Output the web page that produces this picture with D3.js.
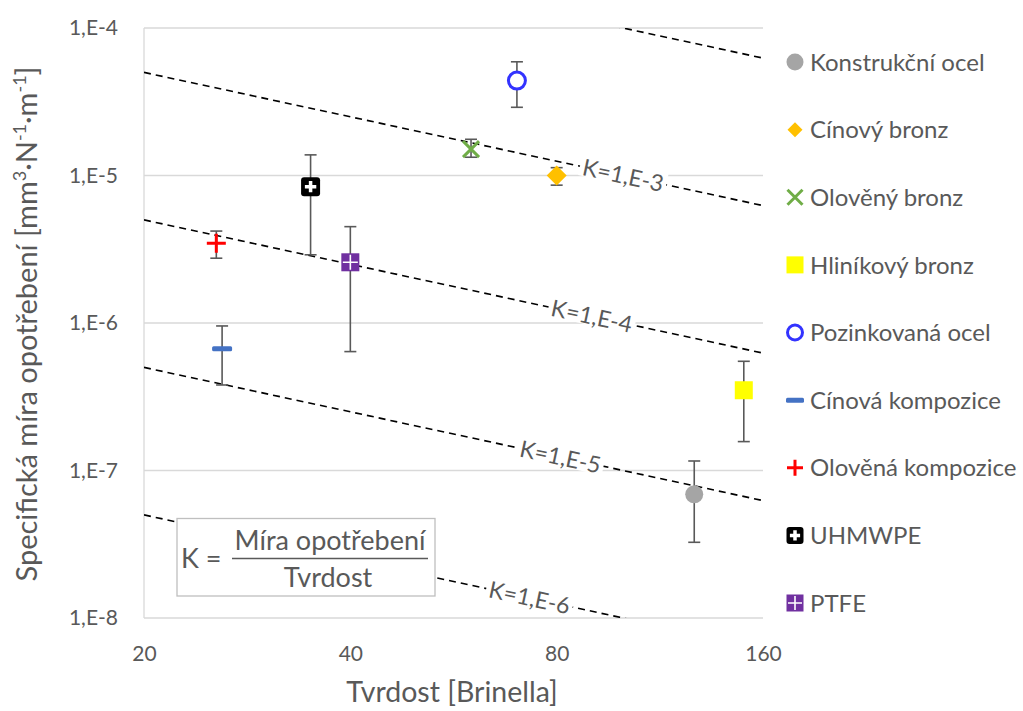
<!DOCTYPE html>
<html>
<head>
<meta charset="utf-8">
<script src="https://cdn.jsdelivr.net/npm/d3@7"></script>
<style>
  html, body { margin: 0; padding: 0; background: #fff; }
  svg { display: block; font-family: Lato, "Open Sans", sans-serif; }
</style>
</head>
<body>
<svg id="chart" width="1023" height="711"></svg>
<script>
// Materials and their measured wear (hardness in Brinell, wear rate in mm3/(N·m))
const categories = ["Konstrukční ocel", "Cínový bronz", "Olověný bronz", "Hliníkový bronz",
  "Pozinkovaná ocel", "Cínová kompozice", "Olověná kompozice", "UHMWPE", "PTFE"];
const hardness  = [127, 80, 60, 150, 70, 26, 25.5, 35, 40];
const wearRate  = [6.9e-8, 1.0e-5, 1.51e-5, 3.5e-7, 4.4e-5, 6.7e-7, 3.47e-6, 8.4e-6, 2.58e-6];
const errUpper  = [1.16e-7, 1.13e-5, 1.76e-5, 5.5e-7, 5.9e-5, 9.55e-7, 4.2e-6, 1.38e-5, 4.5e-6];
const errLower  = [3.26e-8, 8.6e-6, 1.33e-5, 1.57e-7, 2.9e-5, 3.8e-7, 2.75e-6, 2.9e-6, 6.4e-7];
const markerKind = ["circle", "diamond", "cross", "square", "ring", "dash", "plus", "boxPlus", "gridSquare"];
const markerColor = ["#A5A5A5", "#FFC000", "#70AD47", "#FFFF00", "#3333FF", "#4472C4", "#FF0000", "#000000", "#7030A0"];

// Wear coefficient reference lines: wear rate = K / hardness
const kValues   = [1e-2, 1e-3, 1e-4, 1e-5, 1e-6];
const kLabels   = ["", "K=1,E-3", "K=1,E-4", "K=1,E-5", "K=1,E-6"];
const kLabelAtX = [null, 100, 90, 81, 73];

const xTicks = [20, 40, 80, 160];
const yTicks = [1e-8, 1e-7, 1e-6, 1e-5, 1e-4];
const yTickLabels = ["1,E-8", "1,E-7", "1,E-6", "1,E-5", "1,E-4"];

const textColor = "#595959";
const svg = d3.select("#chart");

const x = d3.scaleLog().domain([20, 160]).range([144, 763]);
const y = d3.scaleLog().domain([1e-8, 1e-4]).range([618, 28]);

// Horizontal gridlines
svg.append("g").selectAll("line").data(yTicks).join("line")
  .attr("x1", x.range()[0]).attr("x2", x.range()[1])
  .attr("y1", d => y(d)).attr("y2", d => y(d))
  .attr("stroke", "#D9D9D9").attr("stroke-width", 1.3);
// Vertical axis line
svg.append("line")
  .attr("x1", x(20)).attr("x2", x(20)).attr("y1", y(1e-4)).attr("y2", y(1e-8))
  .attr("stroke", "#D9D9D9").attr("stroke-width", 1.3);

// Axes tick labels
const yAxis = svg.append("g").attr("transform", `translate(${x(20) - 26},0)`)
  .call(d3.axisLeft(y).tickValues(yTicks).tickSize(0).tickPadding(0)
    .tickFormat((d, i) => yTickLabels[i]));
yAxis.select(".domain").remove();
yAxis.selectAll("text").attr("font-size", 21).attr("fill", textColor)
  .attr("font-family", "Lato, sans-serif");

const xAxis = svg.append("g").attr("transform", `translate(0,${y(1e-8) + 28})`)
  .call(d3.axisBottom(x).tickValues(xTicks).tickSize(0).tickPadding(0)
    .tickFormat(d3.format("d")));
xAxis.select(".domain").remove();
xAxis.selectAll("text").attr("font-size", 21).attr("fill", textColor)
  .attr("font-family", "Lato, sans-serif");

// Axis titles
svg.append("text")
  .attr("transform", `translate(37,324) rotate(-90)`)
  .attr("text-anchor", "middle").attr("font-size", 29).attr("fill", textColor)
  .selectAll("tspan")
  .data([["Specifická míra opotřebení [mm", 0], ["3", 1], ["·N", 0], ["-1", 1], ["·m", 0], ["-1", 1], ["]", 0]])
  .join("tspan")
  .attr("baseline-shift", d => d[1] ? "super" : null)
  .attr("font-size", d => d[1] ? 18 : 29)
  .text(d => d[0]);

svg.append("text")
  .attr("x", 452).attr("y", 702)
  .attr("text-anchor", "middle").attr("font-size", 28.5).attr("fill", textColor)
  .text("Tvrdost [Brinella]");

// Clip for reference lines
svg.append("clipPath").attr("id", "plotClip").append("rect")
  .attr("x", x.range()[0]).attr("y", y.range()[1])
  .attr("width", x.range()[1] - x.range()[0]).attr("height", y.range()[0] - y.range()[1]);

const kGroup = svg.append("g").attr("clip-path", "url(#plotClip)");
kGroup.selectAll("line").data(kValues).join("line")
  .attr("x1", x(20)).attr("y1", k => y(k / 20))
  .attr("x2", x(160)).attr("y2", k => y(k / 160))
  .attr("stroke", "#000").attr("stroke-width", 1.6)
  .attr("stroke-dasharray", "7,5");

// Labels on reference lines, rotated along the line
const slopeDeg = Math.atan2(y(1 / 160) - y(1 / 20), x(160) - x(20)) * 180 / Math.PI;
const labelG = svg.append("g");
kValues.forEach((k, i) => {
  if (!kLabelAtX[i]) return;
  const cx = x(kLabelAtX[i]), cy = y(k / kLabelAtX[i]);
  const g = labelG.append("g").attr("transform", `translate(${cx},${cy}) rotate(${slopeDeg})`);
  const t = g.append("text").attr("text-anchor", "middle").attr("dy", "0.35em")
    .attr("font-size", 23).attr("fill", textColor).text(kLabels[i]);
  const bb = t.node().getBBox();
  g.insert("rect", "text").attr("x", bb.x - 3).attr("y", bb.y + 4)
    .attr("width", bb.width + 6).attr("height", bb.height - 8).attr("fill", "#fff");
});

// Error bars
const errG = svg.append("g").attr("stroke", "#595959").attr("stroke-width", 1.6).attr("fill", "none");
categories.forEach((c, i) => {
  const cx = x(hardness[i]);
  errG.append("line").attr("x1", cx).attr("x2", cx).attr("y1", y(errUpper[i])).attr("y2", y(errLower[i]));
  [errUpper[i], errLower[i]].forEach(v => {
    errG.append("line").attr("x1", cx - 6).attr("x2", cx + 6).attr("y1", y(v)).attr("y2", y(v));
  });
});

// Marker drawing
function drawMarker(g, kind, color, s) {
  const h = s / 2;
  switch (kind) {
    case "circle":
      g.append("circle").attr("r", h).attr("fill", color); break;
    case "diamond":
      g.append("path").attr("d", `M0,${-h}L${h},0L0,${h}L${-h},0Z`).attr("fill", color); break;
    case "cross":
      g.append("path").attr("d", `M${-h},${-h}L${h},${h}M${-h},${h}L${h},${-h}`)
        .attr("stroke", color).attr("stroke-width", 3); break;
    case "square":
      g.append("rect").attr("x", -h).attr("y", -h).attr("width", s).attr("height", s).attr("fill", color); break;
    case "ring":
      g.append("circle").attr("r", h - 1.5).attr("fill", "#fff").attr("stroke", color).attr("stroke-width", 3); break;
    case "dash":
      g.append("rect").attr("x", -h).attr("y", -2.5).attr("width", s).attr("height", 5).attr("rx", 1.5).attr("fill", color); break;
    case "plus":
      g.append("path").attr("d", `M${-h},0L${h},0M0,${-h}L0,${h}`)
        .attr("stroke", color).attr("stroke-width", 3); break;
    case "boxPlus":
      g.append("rect").attr("x", -h).attr("y", -h).attr("width", s).attr("height", s).attr("rx", 3).attr("fill", color);
      g.append("path").attr("d", `M${-h * 0.6},0L${h * 0.6},0M0,${-h * 0.6}L0,${h * 0.6}`)
        .attr("stroke", "#fff").attr("stroke-width", 3.5); break;
    case "gridSquare":
      g.append("rect").attr("x", -h).attr("y", -h).attr("width", s).attr("height", s).attr("fill", color);
      g.append("path").attr("d", `M${-h + 1.5},0L${h - 1.5},0M0,${-h + 1.5}L0,${h - 1.5}`)
        .attr("stroke", "#fff").attr("stroke-width", 1.6); break;
  }
}

const markerSize = [18, 20, 16, 18, 20, 20, 19, 19, 18];
const legendSize = [17, 15, 15, 17, 18, 18, 16, 17, 17];

const ptG = svg.append("g");
categories.forEach((c, i) => {
  const g = ptG.append("g").attr("transform", `translate(${x(hardness[i])},${y(wearRate[i])})`);
  drawMarker(g, markerKind[i], markerColor[i], markerSize[i]);
});

// Legend
const legendY = d3.scalePoint().domain(categories).range([62, 603]);
const legG = svg.append("g");
categories.forEach((c, i) => {
  const g = legG.append("g").attr("transform", `translate(795,${legendY(c)})`);
  drawMarker(g, markerKind[i], markerColor[i], legendSize[i]);
  legG.append("text").attr("x", 810).attr("y", legendY(c)).attr("dy", "0.36em")
    .attr("font-size", 24).attr("fill", textColor).text(c);
});

// Formula box
const box = svg.append("g");
box.append("rect").attr("x", 177).attr("y", 518.5).attr("width", 258).attr("height", 77.5)
  .attr("fill", "#fff").attr("stroke", "#BFBFBF").attr("stroke-width", 1.3);
box.append("text").attr("x", 181).attr("y", 568).attr("font-size", 27).attr("fill", textColor).text("K =");
box.append("text").attr("x", 330).attr("y", 550).attr("text-anchor", "middle")
  .attr("font-size", 27).attr("fill", textColor).text("Míra opotřebení");
box.append("line").attr("x1", 232).attr("x2", 428).attr("y1", 558.5).attr("y2", 558.5)
  .attr("stroke", textColor).attr("stroke-width", 1.3);
box.append("text").attr("x", 328).attr("y", 587).attr("text-anchor", "middle")
  .attr("font-size", 27).attr("fill", textColor).text("Tvrdost");
</script>
</body>
</html>
